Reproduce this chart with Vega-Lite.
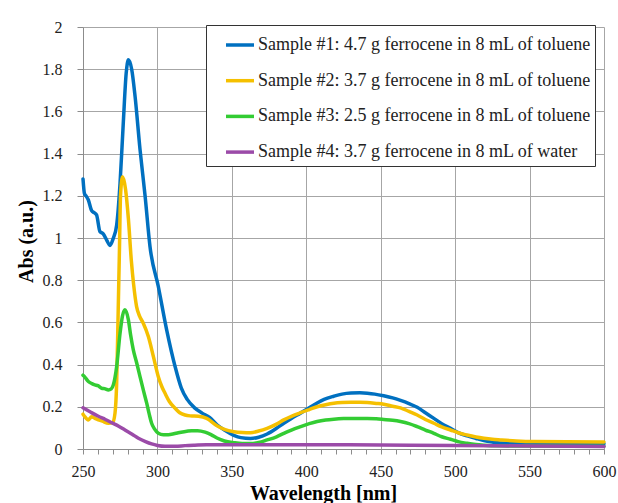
{
  "$schema": "https://vega.github.io/schema/vega-lite/v6.json",
  "width": 521,
  "height": 422,
  "autosize": {"type": "none"},
  "padding": {"left": 83, "top": 27, "right": 14, "bottom": 54},
  "background": "white",
  "config": {
    "view": {"stroke": null},
    "font": "Liberation Serif, Times New Roman, serif",
    "text": {"font": "Liberation Serif, Times New Roman, serif"},
    "axis": {
      "labelFont": "Liberation Serif, Times New Roman, serif",
      "labelFontSize": 16,
      "labelColor": "#222222",
      "titleFont": "Liberation Serif, Times New Roman, serif",
      "titleFontSize": 20,
      "titleFontWeight": "bold",
      "titleColor": "#000000",
      "domainColor": "#8c8c8c",
      "tickColor": "#8c8c8c",
      "gridColor": "#a6a6a6",
      "gridWidth": 1,
      "domainWidth": 1,
      "tickWidth": 1
    },
    "legend": {
      "labelFont": "Liberation Serif, Times New Roman, serif"
    }
  },
  "data": {
    "values": [
      {"series": "Sample #1: 4.7 g ferrocene in 8 mL of toluene", "wl": 250, "abs": 1.28},
      {"series": "Sample #1: 4.7 g ferrocene in 8 mL of toluene", "wl": 251, "abs": 1.21},
      {"series": "Sample #1: 4.7 g ferrocene in 8 mL of toluene", "wl": 252, "abs": 1.2},
      {"series": "Sample #1: 4.7 g ferrocene in 8 mL of toluene", "wl": 253.6, "abs": 1.18},
      {"series": "Sample #1: 4.7 g ferrocene in 8 mL of toluene", "wl": 255.8, "abs": 1.13},
      {"series": "Sample #1: 4.7 g ferrocene in 8 mL of toluene", "wl": 257.5, "abs": 1.12},
      {"series": "Sample #1: 4.7 g ferrocene in 8 mL of toluene", "wl": 259.1, "abs": 1.11},
      {"series": "Sample #1: 4.7 g ferrocene in 8 mL of toluene", "wl": 261.4, "abs": 1.03},
      {"series": "Sample #1: 4.7 g ferrocene in 8 mL of toluene", "wl": 263.6, "abs": 1.02},
      {"series": "Sample #1: 4.7 g ferrocene in 8 mL of toluene", "wl": 265.9, "abs": 0.99},
      {"series": "Sample #1: 4.7 g ferrocene in 8 mL of toluene", "wl": 268.1, "abs": 0.965},
      {"series": "Sample #1: 4.7 g ferrocene in 8 mL of toluene", "wl": 270.4, "abs": 1.0},
      {"series": "Sample #1: 4.7 g ferrocene in 8 mL of toluene", "wl": 272.6, "abs": 1.06},
      {"series": "Sample #1: 4.7 g ferrocene in 8 mL of toluene", "wl": 274.9, "abs": 1.26},
      {"series": "Sample #1: 4.7 g ferrocene in 8 mL of toluene", "wl": 277.1, "abs": 1.55},
      {"series": "Sample #1: 4.7 g ferrocene in 8 mL of toluene", "wl": 279, "abs": 1.78},
      {"series": "Sample #1: 4.7 g ferrocene in 8 mL of toluene", "wl": 280.5, "abs": 1.845},
      {"series": "Sample #1: 4.7 g ferrocene in 8 mL of toluene", "wl": 282.7, "abs": 1.8},
      {"series": "Sample #1: 4.7 g ferrocene in 8 mL of toluene", "wl": 285, "abs": 1.67},
      {"series": "Sample #1: 4.7 g ferrocene in 8 mL of toluene", "wl": 288.3, "abs": 1.42},
      {"series": "Sample #1: 4.7 g ferrocene in 8 mL of toluene", "wl": 291.7, "abs": 1.2},
      {"series": "Sample #1: 4.7 g ferrocene in 8 mL of toluene", "wl": 295, "abs": 0.96},
      {"series": "Sample #1: 4.7 g ferrocene in 8 mL of toluene", "wl": 300.6, "abs": 0.77},
      {"series": "Sample #1: 4.7 g ferrocene in 8 mL of toluene", "wl": 306.2, "abs": 0.565},
      {"series": "Sample #1: 4.7 g ferrocene in 8 mL of toluene", "wl": 311.9, "abs": 0.39},
      {"series": "Sample #1: 4.7 g ferrocene in 8 mL of toluene", "wl": 316, "abs": 0.29},
      {"series": "Sample #1: 4.7 g ferrocene in 8 mL of toluene", "wl": 320, "abs": 0.235},
      {"series": "Sample #1: 4.7 g ferrocene in 8 mL of toluene", "wl": 325, "abs": 0.195},
      {"series": "Sample #1: 4.7 g ferrocene in 8 mL of toluene", "wl": 330, "abs": 0.17},
      {"series": "Sample #1: 4.7 g ferrocene in 8 mL of toluene", "wl": 335, "abs": 0.15},
      {"series": "Sample #1: 4.7 g ferrocene in 8 mL of toluene", "wl": 340, "abs": 0.115},
      {"series": "Sample #1: 4.7 g ferrocene in 8 mL of toluene", "wl": 345, "abs": 0.09},
      {"series": "Sample #1: 4.7 g ferrocene in 8 mL of toluene", "wl": 351.3, "abs": 0.065},
      {"series": "Sample #1: 4.7 g ferrocene in 8 mL of toluene", "wl": 356, "abs": 0.054},
      {"series": "Sample #1: 4.7 g ferrocene in 8 mL of toluene", "wl": 362.5, "abs": 0.05},
      {"series": "Sample #1: 4.7 g ferrocene in 8 mL of toluene", "wl": 368, "abs": 0.056},
      {"series": "Sample #1: 4.7 g ferrocene in 8 mL of toluene", "wl": 373.7, "abs": 0.071},
      {"series": "Sample #1: 4.7 g ferrocene in 8 mL of toluene", "wl": 380, "abs": 0.098},
      {"series": "Sample #1: 4.7 g ferrocene in 8 mL of toluene", "wl": 384.9, "abs": 0.122},
      {"series": "Sample #1: 4.7 g ferrocene in 8 mL of toluene", "wl": 390, "abs": 0.145},
      {"series": "Sample #1: 4.7 g ferrocene in 8 mL of toluene", "wl": 396.1, "abs": 0.17},
      {"series": "Sample #1: 4.7 g ferrocene in 8 mL of toluene", "wl": 402, "abs": 0.195},
      {"series": "Sample #1: 4.7 g ferrocene in 8 mL of toluene", "wl": 407.3, "abs": 0.218},
      {"series": "Sample #1: 4.7 g ferrocene in 8 mL of toluene", "wl": 412, "abs": 0.235},
      {"series": "Sample #1: 4.7 g ferrocene in 8 mL of toluene", "wl": 418.5, "abs": 0.25},
      {"series": "Sample #1: 4.7 g ferrocene in 8 mL of toluene", "wl": 424, "abs": 0.26},
      {"series": "Sample #1: 4.7 g ferrocene in 8 mL of toluene", "wl": 430, "abs": 0.265},
      {"series": "Sample #1: 4.7 g ferrocene in 8 mL of toluene", "wl": 436, "abs": 0.266},
      {"series": "Sample #1: 4.7 g ferrocene in 8 mL of toluene", "wl": 441, "abs": 0.264},
      {"series": "Sample #1: 4.7 g ferrocene in 8 mL of toluene", "wl": 446, "abs": 0.26},
      {"series": "Sample #1: 4.7 g ferrocene in 8 mL of toluene", "wl": 452, "abs": 0.252},
      {"series": "Sample #1: 4.7 g ferrocene in 8 mL of toluene", "wl": 458, "abs": 0.242},
      {"series": "Sample #1: 4.7 g ferrocene in 8 mL of toluene", "wl": 463.3, "abs": 0.23},
      {"series": "Sample #1: 4.7 g ferrocene in 8 mL of toluene", "wl": 469, "abs": 0.215},
      {"series": "Sample #1: 4.7 g ferrocene in 8 mL of toluene", "wl": 474.5, "abs": 0.198},
      {"series": "Sample #1: 4.7 g ferrocene in 8 mL of toluene", "wl": 480, "abs": 0.172},
      {"series": "Sample #1: 4.7 g ferrocene in 8 mL of toluene", "wl": 485.7, "abs": 0.145},
      {"series": "Sample #1: 4.7 g ferrocene in 8 mL of toluene", "wl": 491, "abs": 0.12},
      {"series": "Sample #1: 4.7 g ferrocene in 8 mL of toluene", "wl": 496.9, "abs": 0.098},
      {"series": "Sample #1: 4.7 g ferrocene in 8 mL of toluene", "wl": 502, "abs": 0.078},
      {"series": "Sample #1: 4.7 g ferrocene in 8 mL of toluene", "wl": 508.2, "abs": 0.062},
      {"series": "Sample #1: 4.7 g ferrocene in 8 mL of toluene", "wl": 514, "abs": 0.05},
      {"series": "Sample #1: 4.7 g ferrocene in 8 mL of toluene", "wl": 519.3, "abs": 0.04},
      {"series": "Sample #1: 4.7 g ferrocene in 8 mL of toluene", "wl": 525, "abs": 0.033},
      {"series": "Sample #1: 4.7 g ferrocene in 8 mL of toluene", "wl": 530.5, "abs": 0.028},
      {"series": "Sample #1: 4.7 g ferrocene in 8 mL of toluene", "wl": 541.7, "abs": 0.025},
      {"series": "Sample #1: 4.7 g ferrocene in 8 mL of toluene", "wl": 560, "abs": 0.025},
      {"series": "Sample #1: 4.7 g ferrocene in 8 mL of toluene", "wl": 580, "abs": 0.025},
      {"series": "Sample #1: 4.7 g ferrocene in 8 mL of toluene", "wl": 600, "abs": 0.025},

      {"series": "Sample #2: 3.7 g ferrocene in 8 mL of toluene", "wl": 250, "abs": 0.165},
      {"series": "Sample #2: 3.7 g ferrocene in 8 mL of toluene", "wl": 251, "abs": 0.155},
      {"series": "Sample #2: 3.7 g ferrocene in 8 mL of toluene", "wl": 253.6, "abs": 0.138},
      {"series": "Sample #2: 3.7 g ferrocene in 8 mL of toluene", "wl": 255.8, "abs": 0.153},
      {"series": "Sample #2: 3.7 g ferrocene in 8 mL of toluene", "wl": 258, "abs": 0.145},
      {"series": "Sample #2: 3.7 g ferrocene in 8 mL of toluene", "wl": 260.3, "abs": 0.138},
      {"series": "Sample #2: 3.7 g ferrocene in 8 mL of toluene", "wl": 263, "abs": 0.132},
      {"series": "Sample #2: 3.7 g ferrocene in 8 mL of toluene", "wl": 267, "abs": 0.122},
      {"series": "Sample #2: 3.7 g ferrocene in 8 mL of toluene", "wl": 270, "abs": 0.125},
      {"series": "Sample #2: 3.7 g ferrocene in 8 mL of toluene", "wl": 271.5, "abs": 0.17},
      {"series": "Sample #2: 3.7 g ferrocene in 8 mL of toluene", "wl": 272.6, "abs": 0.31},
      {"series": "Sample #2: 3.7 g ferrocene in 8 mL of toluene", "wl": 273.7, "abs": 0.675},
      {"series": "Sample #2: 3.7 g ferrocene in 8 mL of toluene", "wl": 274.5, "abs": 0.95},
      {"series": "Sample #2: 3.7 g ferrocene in 8 mL of toluene", "wl": 275.2, "abs": 1.2},
      {"series": "Sample #2: 3.7 g ferrocene in 8 mL of toluene", "wl": 276.6, "abs": 1.29},
      {"series": "Sample #2: 3.7 g ferrocene in 8 mL of toluene", "wl": 278.6, "abs": 1.23},
      {"series": "Sample #2: 3.7 g ferrocene in 8 mL of toluene", "wl": 280.5, "abs": 1.09},
      {"series": "Sample #2: 3.7 g ferrocene in 8 mL of toluene", "wl": 282.5, "abs": 0.89},
      {"series": "Sample #2: 3.7 g ferrocene in 8 mL of toluene", "wl": 284, "abs": 0.78},
      {"series": "Sample #2: 3.7 g ferrocene in 8 mL of toluene", "wl": 286, "abs": 0.675},
      {"series": "Sample #2: 3.7 g ferrocene in 8 mL of toluene", "wl": 288, "abs": 0.63},
      {"series": "Sample #2: 3.7 g ferrocene in 8 mL of toluene", "wl": 290.5, "abs": 0.596},
      {"series": "Sample #2: 3.7 g ferrocene in 8 mL of toluene", "wl": 293.9, "abs": 0.533},
      {"series": "Sample #2: 3.7 g ferrocene in 8 mL of toluene", "wl": 297.3, "abs": 0.438},
      {"series": "Sample #2: 3.7 g ferrocene in 8 mL of toluene", "wl": 300.6, "abs": 0.343},
      {"series": "Sample #2: 3.7 g ferrocene in 8 mL of toluene", "wl": 303, "abs": 0.295},
      {"series": "Sample #2: 3.7 g ferrocene in 8 mL of toluene", "wl": 305.1, "abs": 0.264},
      {"series": "Sample #2: 3.7 g ferrocene in 8 mL of toluene", "wl": 308, "abs": 0.225},
      {"series": "Sample #2: 3.7 g ferrocene in 8 mL of toluene", "wl": 311.9, "abs": 0.193},
      {"series": "Sample #2: 3.7 g ferrocene in 8 mL of toluene", "wl": 315, "abs": 0.172},
      {"series": "Sample #2: 3.7 g ferrocene in 8 mL of toluene", "wl": 318.6, "abs": 0.161},
      {"series": "Sample #2: 3.7 g ferrocene in 8 mL of toluene", "wl": 322, "abs": 0.157},
      {"series": "Sample #2: 3.7 g ferrocene in 8 mL of toluene", "wl": 327.5, "abs": 0.155},
      {"series": "Sample #2: 3.7 g ferrocene in 8 mL of toluene", "wl": 333.1, "abs": 0.145},
      {"series": "Sample #2: 3.7 g ferrocene in 8 mL of toluene", "wl": 340, "abs": 0.11},
      {"series": "Sample #2: 3.7 g ferrocene in 8 mL of toluene", "wl": 345, "abs": 0.093},
      {"series": "Sample #2: 3.7 g ferrocene in 8 mL of toluene", "wl": 351.3, "abs": 0.082},
      {"series": "Sample #2: 3.7 g ferrocene in 8 mL of toluene", "wl": 357, "abs": 0.078},
      {"series": "Sample #2: 3.7 g ferrocene in 8 mL of toluene", "wl": 362.5, "abs": 0.077},
      {"series": "Sample #2: 3.7 g ferrocene in 8 mL of toluene", "wl": 368, "abs": 0.085},
      {"series": "Sample #2: 3.7 g ferrocene in 8 mL of toluene", "wl": 373.7, "abs": 0.098},
      {"series": "Sample #2: 3.7 g ferrocene in 8 mL of toluene", "wl": 380, "abs": 0.118},
      {"series": "Sample #2: 3.7 g ferrocene in 8 mL of toluene", "wl": 384.9, "abs": 0.138},
      {"series": "Sample #2: 3.7 g ferrocene in 8 mL of toluene", "wl": 390, "abs": 0.155},
      {"series": "Sample #2: 3.7 g ferrocene in 8 mL of toluene", "wl": 396.1, "abs": 0.172},
      {"series": "Sample #2: 3.7 g ferrocene in 8 mL of toluene", "wl": 402, "abs": 0.187},
      {"series": "Sample #2: 3.7 g ferrocene in 8 mL of toluene", "wl": 407.3, "abs": 0.2},
      {"series": "Sample #2: 3.7 g ferrocene in 8 mL of toluene", "wl": 413, "abs": 0.21},
      {"series": "Sample #2: 3.7 g ferrocene in 8 mL of toluene", "wl": 418.5, "abs": 0.217},
      {"series": "Sample #2: 3.7 g ferrocene in 8 mL of toluene", "wl": 424, "abs": 0.22},
      {"series": "Sample #2: 3.7 g ferrocene in 8 mL of toluene", "wl": 430, "abs": 0.221},
      {"series": "Sample #2: 3.7 g ferrocene in 8 mL of toluene", "wl": 436, "abs": 0.221},
      {"series": "Sample #2: 3.7 g ferrocene in 8 mL of toluene", "wl": 441, "abs": 0.22},
      {"series": "Sample #2: 3.7 g ferrocene in 8 mL of toluene", "wl": 447, "abs": 0.216},
      {"series": "Sample #2: 3.7 g ferrocene in 8 mL of toluene", "wl": 452, "abs": 0.212},
      {"series": "Sample #2: 3.7 g ferrocene in 8 mL of toluene", "wl": 458, "abs": 0.203},
      {"series": "Sample #2: 3.7 g ferrocene in 8 mL of toluene", "wl": 463.3, "abs": 0.195},
      {"series": "Sample #2: 3.7 g ferrocene in 8 mL of toluene", "wl": 469, "abs": 0.178},
      {"series": "Sample #2: 3.7 g ferrocene in 8 mL of toluene", "wl": 474.5, "abs": 0.161},
      {"series": "Sample #2: 3.7 g ferrocene in 8 mL of toluene", "wl": 480, "abs": 0.14},
      {"series": "Sample #2: 3.7 g ferrocene in 8 mL of toluene", "wl": 485.7, "abs": 0.122},
      {"series": "Sample #2: 3.7 g ferrocene in 8 mL of toluene", "wl": 491, "abs": 0.105},
      {"series": "Sample #2: 3.7 g ferrocene in 8 mL of toluene", "wl": 496.9, "abs": 0.09},
      {"series": "Sample #2: 3.7 g ferrocene in 8 mL of toluene", "wl": 502, "abs": 0.077},
      {"series": "Sample #2: 3.7 g ferrocene in 8 mL of toluene", "wl": 508, "abs": 0.066},
      {"series": "Sample #2: 3.7 g ferrocene in 8 mL of toluene", "wl": 514, "abs": 0.057},
      {"series": "Sample #2: 3.7 g ferrocene in 8 mL of toluene", "wl": 519.3, "abs": 0.051},
      {"series": "Sample #2: 3.7 g ferrocene in 8 mL of toluene", "wl": 525, "abs": 0.046},
      {"series": "Sample #2: 3.7 g ferrocene in 8 mL of toluene", "wl": 530.5, "abs": 0.043},
      {"series": "Sample #2: 3.7 g ferrocene in 8 mL of toluene", "wl": 541, "abs": 0.038},
      {"series": "Sample #2: 3.7 g ferrocene in 8 mL of toluene", "wl": 553, "abs": 0.035},
      {"series": "Sample #2: 3.7 g ferrocene in 8 mL of toluene", "wl": 575, "abs": 0.034},
      {"series": "Sample #2: 3.7 g ferrocene in 8 mL of toluene", "wl": 600, "abs": 0.033},

      {"series": "Sample #3: 2.5 g ferrocene in 8 mL of toluene", "wl": 250, "abs": 0.35},
      {"series": "Sample #3: 2.5 g ferrocene in 8 mL of toluene", "wl": 251, "abs": 0.343},
      {"series": "Sample #3: 2.5 g ferrocene in 8 mL of toluene", "wl": 253.6, "abs": 0.32},
      {"series": "Sample #3: 2.5 g ferrocene in 8 mL of toluene", "wl": 256, "abs": 0.31},
      {"series": "Sample #3: 2.5 g ferrocene in 8 mL of toluene", "wl": 258, "abs": 0.304},
      {"series": "Sample #3: 2.5 g ferrocene in 8 mL of toluene", "wl": 260, "abs": 0.3},
      {"series": "Sample #3: 2.5 g ferrocene in 8 mL of toluene", "wl": 262.5, "abs": 0.288},
      {"series": "Sample #3: 2.5 g ferrocene in 8 mL of toluene", "wl": 265, "abs": 0.285},
      {"series": "Sample #3: 2.5 g ferrocene in 8 mL of toluene", "wl": 267, "abs": 0.28},
      {"series": "Sample #3: 2.5 g ferrocene in 8 mL of toluene", "wl": 269, "abs": 0.285},
      {"series": "Sample #3: 2.5 g ferrocene in 8 mL of toluene", "wl": 270.4, "abs": 0.304},
      {"series": "Sample #3: 2.5 g ferrocene in 8 mL of toluene", "wl": 272.6, "abs": 0.39},
      {"series": "Sample #3: 2.5 g ferrocene in 8 mL of toluene", "wl": 274.9, "abs": 0.549},
      {"series": "Sample #3: 2.5 g ferrocene in 8 mL of toluene", "wl": 276.5, "abs": 0.63},
      {"series": "Sample #3: 2.5 g ferrocene in 8 mL of toluene", "wl": 278.2, "abs": 0.66},
      {"series": "Sample #3: 2.5 g ferrocene in 8 mL of toluene", "wl": 280.5, "abs": 0.612},
      {"series": "Sample #3: 2.5 g ferrocene in 8 mL of toluene", "wl": 282, "abs": 0.54},
      {"series": "Sample #3: 2.5 g ferrocene in 8 mL of toluene", "wl": 283.8, "abs": 0.47},
      {"series": "Sample #3: 2.5 g ferrocene in 8 mL of toluene", "wl": 286, "abs": 0.41},
      {"series": "Sample #3: 2.5 g ferrocene in 8 mL of toluene", "wl": 288.3, "abs": 0.343},
      {"series": "Sample #3: 2.5 g ferrocene in 8 mL of toluene", "wl": 290.5, "abs": 0.28},
      {"series": "Sample #3: 2.5 g ferrocene in 8 mL of toluene", "wl": 292.8, "abs": 0.217},
      {"series": "Sample #3: 2.5 g ferrocene in 8 mL of toluene", "wl": 294.5, "abs": 0.165},
      {"series": "Sample #3: 2.5 g ferrocene in 8 mL of toluene", "wl": 296.1, "abs": 0.122},
      {"series": "Sample #3: 2.5 g ferrocene in 8 mL of toluene", "wl": 298, "abs": 0.095},
      {"series": "Sample #3: 2.5 g ferrocene in 8 mL of toluene", "wl": 300.6, "abs": 0.075},
      {"series": "Sample #3: 2.5 g ferrocene in 8 mL of toluene", "wl": 304, "abs": 0.068},
      {"series": "Sample #3: 2.5 g ferrocene in 8 mL of toluene", "wl": 307.3, "abs": 0.068},
      {"series": "Sample #3: 2.5 g ferrocene in 8 mL of toluene", "wl": 311, "abs": 0.072},
      {"series": "Sample #3: 2.5 g ferrocene in 8 mL of toluene", "wl": 314, "abs": 0.077},
      {"series": "Sample #3: 2.5 g ferrocene in 8 mL of toluene", "wl": 318, "abs": 0.082},
      {"series": "Sample #3: 2.5 g ferrocene in 8 mL of toluene", "wl": 323, "abs": 0.086},
      {"series": "Sample #3: 2.5 g ferrocene in 8 mL of toluene", "wl": 327, "abs": 0.087},
      {"series": "Sample #3: 2.5 g ferrocene in 8 mL of toluene", "wl": 332, "abs": 0.08},
      {"series": "Sample #3: 2.5 g ferrocene in 8 mL of toluene", "wl": 336, "abs": 0.068},
      {"series": "Sample #3: 2.5 g ferrocene in 8 mL of toluene", "wl": 340, "abs": 0.052},
      {"series": "Sample #3: 2.5 g ferrocene in 8 mL of toluene", "wl": 345, "abs": 0.038},
      {"series": "Sample #3: 2.5 g ferrocene in 8 mL of toluene", "wl": 351.3, "abs": 0.03},
      {"series": "Sample #3: 2.5 g ferrocene in 8 mL of toluene", "wl": 357, "abs": 0.026},
      {"series": "Sample #3: 2.5 g ferrocene in 8 mL of toluene", "wl": 362.5, "abs": 0.026},
      {"series": "Sample #3: 2.5 g ferrocene in 8 mL of toluene", "wl": 368, "abs": 0.031},
      {"series": "Sample #3: 2.5 g ferrocene in 8 mL of toluene", "wl": 373.7, "abs": 0.043},
      {"series": "Sample #3: 2.5 g ferrocene in 8 mL of toluene", "wl": 380, "abs": 0.058},
      {"series": "Sample #3: 2.5 g ferrocene in 8 mL of toluene", "wl": 384.9, "abs": 0.074},
      {"series": "Sample #3: 2.5 g ferrocene in 8 mL of toluene", "wl": 390, "abs": 0.09},
      {"series": "Sample #3: 2.5 g ferrocene in 8 mL of toluene", "wl": 396.1, "abs": 0.106},
      {"series": "Sample #3: 2.5 g ferrocene in 8 mL of toluene", "wl": 402, "abs": 0.12},
      {"series": "Sample #3: 2.5 g ferrocene in 8 mL of toluene", "wl": 407.3, "abs": 0.13},
      {"series": "Sample #3: 2.5 g ferrocene in 8 mL of toluene", "wl": 413, "abs": 0.137},
      {"series": "Sample #3: 2.5 g ferrocene in 8 mL of toluene", "wl": 418.5, "abs": 0.141},
      {"series": "Sample #3: 2.5 g ferrocene in 8 mL of toluene", "wl": 425, "abs": 0.144},
      {"series": "Sample #3: 2.5 g ferrocene in 8 mL of toluene", "wl": 430, "abs": 0.145},
      {"series": "Sample #3: 2.5 g ferrocene in 8 mL of toluene", "wl": 436, "abs": 0.145},
      {"series": "Sample #3: 2.5 g ferrocene in 8 mL of toluene", "wl": 441, "abs": 0.145},
      {"series": "Sample #3: 2.5 g ferrocene in 8 mL of toluene", "wl": 447, "abs": 0.143},
      {"series": "Sample #3: 2.5 g ferrocene in 8 mL of toluene", "wl": 452, "abs": 0.14},
      {"series": "Sample #3: 2.5 g ferrocene in 8 mL of toluene", "wl": 458, "abs": 0.136},
      {"series": "Sample #3: 2.5 g ferrocene in 8 mL of toluene", "wl": 463.3, "abs": 0.13},
      {"series": "Sample #3: 2.5 g ferrocene in 8 mL of toluene", "wl": 469, "abs": 0.12},
      {"series": "Sample #3: 2.5 g ferrocene in 8 mL of toluene", "wl": 474.5, "abs": 0.106},
      {"series": "Sample #3: 2.5 g ferrocene in 8 mL of toluene", "wl": 480, "abs": 0.09},
      {"series": "Sample #3: 2.5 g ferrocene in 8 mL of toluene", "wl": 485.7, "abs": 0.074},
      {"series": "Sample #3: 2.5 g ferrocene in 8 mL of toluene", "wl": 491, "abs": 0.058},
      {"series": "Sample #3: 2.5 g ferrocene in 8 mL of toluene", "wl": 496.9, "abs": 0.046},
      {"series": "Sample #3: 2.5 g ferrocene in 8 mL of toluene", "wl": 502, "abs": 0.035},
      {"series": "Sample #3: 2.5 g ferrocene in 8 mL of toluene", "wl": 508, "abs": 0.027},
      {"series": "Sample #3: 2.5 g ferrocene in 8 mL of toluene", "wl": 514, "abs": 0.021},
      {"series": "Sample #3: 2.5 g ferrocene in 8 mL of toluene", "wl": 519, "abs": 0.018},
      {"series": "Sample #3: 2.5 g ferrocene in 8 mL of toluene", "wl": 530, "abs": 0.015},
      {"series": "Sample #3: 2.5 g ferrocene in 8 mL of toluene", "wl": 560, "abs": 0.014},
      {"series": "Sample #3: 2.5 g ferrocene in 8 mL of toluene", "wl": 600, "abs": 0.013},

      {"series": "Sample #4: 3.7 g ferrocene in 8 mL of water", "wl": 250, "abs": 0.195},
      {"series": "Sample #4: 3.7 g ferrocene in 8 mL of water", "wl": 255, "abs": 0.175},
      {"series": "Sample #4: 3.7 g ferrocene in 8 mL of water", "wl": 260.3, "abs": 0.155},
      {"series": "Sample #4: 3.7 g ferrocene in 8 mL of water", "wl": 265, "abs": 0.14},
      {"series": "Sample #4: 3.7 g ferrocene in 8 mL of water", "wl": 269.2, "abs": 0.125},
      {"series": "Sample #4: 3.7 g ferrocene in 8 mL of water", "wl": 274, "abs": 0.108},
      {"series": "Sample #4: 3.7 g ferrocene in 8 mL of water", "wl": 278.2, "abs": 0.09},
      {"series": "Sample #4: 3.7 g ferrocene in 8 mL of water", "wl": 283, "abs": 0.07},
      {"series": "Sample #4: 3.7 g ferrocene in 8 mL of water", "wl": 287.2, "abs": 0.051},
      {"series": "Sample #4: 3.7 g ferrocene in 8 mL of water", "wl": 292, "abs": 0.035},
      {"series": "Sample #4: 3.7 g ferrocene in 8 mL of water", "wl": 296.1, "abs": 0.024},
      {"series": "Sample #4: 3.7 g ferrocene in 8 mL of water", "wl": 300, "abs": 0.017},
      {"series": "Sample #4: 3.7 g ferrocene in 8 mL of water", "wl": 305.1, "abs": 0.013},
      {"series": "Sample #4: 3.7 g ferrocene in 8 mL of water", "wl": 312, "abs": 0.013},
      {"series": "Sample #4: 3.7 g ferrocene in 8 mL of water", "wl": 318.6, "abs": 0.016},
      {"series": "Sample #4: 3.7 g ferrocene in 8 mL of water", "wl": 325, "abs": 0.018},
      {"series": "Sample #4: 3.7 g ferrocene in 8 mL of water", "wl": 333, "abs": 0.02},
      {"series": "Sample #4: 3.7 g ferrocene in 8 mL of water", "wl": 350, "abs": 0.02},
      {"series": "Sample #4: 3.7 g ferrocene in 8 mL of water", "wl": 400, "abs": 0.02},
      {"series": "Sample #4: 3.7 g ferrocene in 8 mL of water", "wl": 450, "abs": 0.019},
      {"series": "Sample #4: 3.7 g ferrocene in 8 mL of water", "wl": 500, "abs": 0.017},
      {"series": "Sample #4: 3.7 g ferrocene in 8 mL of water", "wl": 550, "abs": 0.014},
      {"series": "Sample #4: 3.7 g ferrocene in 8 mL of water", "wl": 600, "abs": 0.012}
    ]
  },
  "mark": {"type": "line", "strokeWidth": 3.5, "interpolate": "monotone", "strokeCap": "round", "strokeJoin": "round"},
  "encoding": {
    "x": {
      "field": "wl",
      "type": "quantitative",
      "scale": {"domain": [250, 600], "nice": false, "zero": false},
      "axis": {
        "title": "Wavelength [nm]",
        "titleX": 240,
        "titleAlign": "center",
        "values": [250,260,270,280,290,300,310,320,330,340,350,360,370,380,390,400,410,420,430,440,450,460,470,480,490,500,510,520,530,540,550,560,570,580,590,600],
        "labelExpr": "datum.value % 50 === 0 ? datum.label : ''",
        "labelOverlap": false,
        "labelFlush": false,
        "tickSize": 5,
        "labelPadding": 9,
        "titlePadding": 4,
        "grid": true,
        "gridOpacity": {"condition": {"test": "datum.value % 50 === 0", "value": 1}, "value": 0}
      }
    },
    "y": {
      "field": "abs",
      "type": "quantitative",
      "scale": {"domain": [0, 2], "nice": false},
      "axis": {
        "title": "Abs (a.u.)",
        "titleY": 214,
        "titleAlign": "center",
        "values": [0, 0.2, 0.4, 0.6, 0.8, 1, 1.2, 1.4, 1.6, 1.8, 2],
        "format": ".1~f",
        "labelOverlap": false,
        "labelFlush": false,
        "tickSize": 6,
        "labelPadding": 15,
        "titlePadding": 6,
        "grid": true
      }
    },
    "color": {
      "field": "series",
      "type": "nominal",
      "scale": {"range": ["#0070C0", "#F5C000", "#33CC33", "#9B4BA8"]},
      "legend": {
        "title": null,
        "orient": "none",
        "legendX": 123,
        "legendY": -2,
        "symbolType": "stroke",
        "symbolSize": 784,
        "symbolStrokeWidth": 3.5,
        "labelFont": "Liberation Serif, Times New Roman, serif",
        "labelFontSize": 18,
        "labelColor": "#222222",
        "labelLimit": 600,
        "labelOffset": 2,
        "labelExpr": "datum.label + '  '",
        "strokeColor": "#333333",
        "fillColor": "white",
        "padding": 4,
        "symbolOffset": 14,
        "rowPadding": 10.7
      }
    }
  }
}
